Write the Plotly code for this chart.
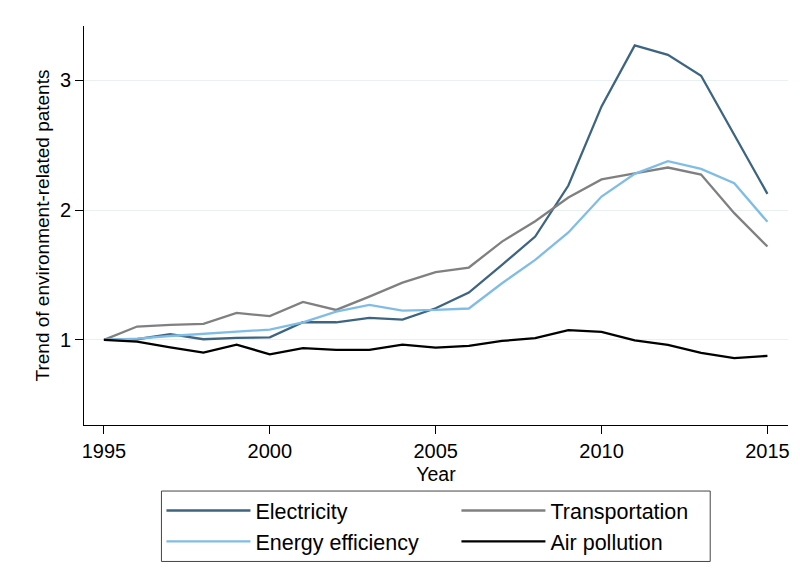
import plotly.graph_objects as go

years = list(range(1995, 2016))
electricity = [1.00, 1.005, 1.045, 1.005, 1.015, 1.02, 1.136, 1.136, 1.17, 1.157, 1.244,
               1.365, 1.578, 1.797, 2.19, 2.80, 3.27, 3.198, 3.036, 2.58, 2.126]
transportation = [1.00, 1.103, 1.116, 1.123, 1.208, 1.183, 1.293, 1.231, 1.334, 1.442, 1.522,
                  1.558, 1.758, 1.915, 2.098, 2.237, 2.283, 2.329, 2.275, 1.977, 1.72]
energy_eff = [1.00, 1.01, 1.03, 1.046, 1.06, 1.08, 1.136, 1.218, 1.27, 1.226, 1.231,
              1.242, 1.437, 1.617, 1.828, 2.105, 2.28, 2.378, 2.319, 2.208, 1.91]
air_pollution = [1.00, 0.987, 0.943, 0.902, 0.964, 0.889, 0.936, 0.923, 0.923, 0.964, 0.941,
                 0.954, 0.992, 1.013, 1.075, 1.062, 0.997, 0.961, 0.90, 0.859, 0.877]

series = [
    ("Electricity", electricity, "#3d6580"),
    ("Transportation", transportation, "#808080"),
    ("Energy efficiency", energy_eff, "#80bde6"),
    ("Air pollution", air_pollution, "#000000"),
]

x_ticks = [1995, 2000, 2005, 2010, 2015]
y_ticks = [1, 2, 3]

FONT = "Liberation Sans, Arial, Helvetica, sans-serif"

fig = go.Figure()
for name, vals, col in series:
    fig.add_trace(go.Scatter(x=years, y=vals, mode="lines", name=name,
                             line=dict(color=col, width=2.3)))

# legend frame (page has an 8px body margin, so the figure is 792x576)
fig.add_shape(type="rect", xref="paper", yref="paper",
              x0=0.110, x1=0.8895, y0=-0.1655, y1=-0.342,
              line=dict(color="#444444", width=1), fillcolor="rgba(0,0,0,0)",
              layer="above")

fig.update_layout(
    width=792, height=576,
    margin=dict(l=76, r=10, t=18, b=159),
    paper_bgcolor="white", plot_bgcolor="white",
    font=dict(family=FONT, size=20, color="black"),
    showlegend=True,
    legend=dict(
        orientation="h",
        x=0.11, xanchor="left",
        y=-0.163, yanchor="top",
        borderwidth=0,
        bgcolor="rgba(0,0,0,0)",
        font=dict(size=21.5, color="black"),
        entrywidth=196,
        itemwidth=84,
        tracegroupgap=0,
        traceorder="normal",
    ),
    xaxis=dict(
        range=[1994.4, 2015.62],
        tickvals=x_ticks,
        ticks="outside", ticklen=8, tickwidth=1, tickcolor="black",
        showline=True, linecolor="black", linewidth=1,
        showgrid=False, zeroline=False,
        title=dict(text="Year", standoff=6, font=dict(size=19.5)),
        tickfont=dict(size=20),
    ),
    yaxis=dict(
        range=[0.344, 3.42],
        tickvals=y_ticks,
        ticks="outside", ticklen=8, tickwidth=1, tickcolor="black",
        showline=True, linecolor="black", linewidth=1,
        showgrid=True, gridcolor="#e9f0f2", gridwidth=1,
        zeroline=False,
        title=dict(text="Trend of environment-related patents", standoff=5, font=dict(size=19)),
        tickfont=dict(size=20),
    ),
)

fig.write_html("out.html")
